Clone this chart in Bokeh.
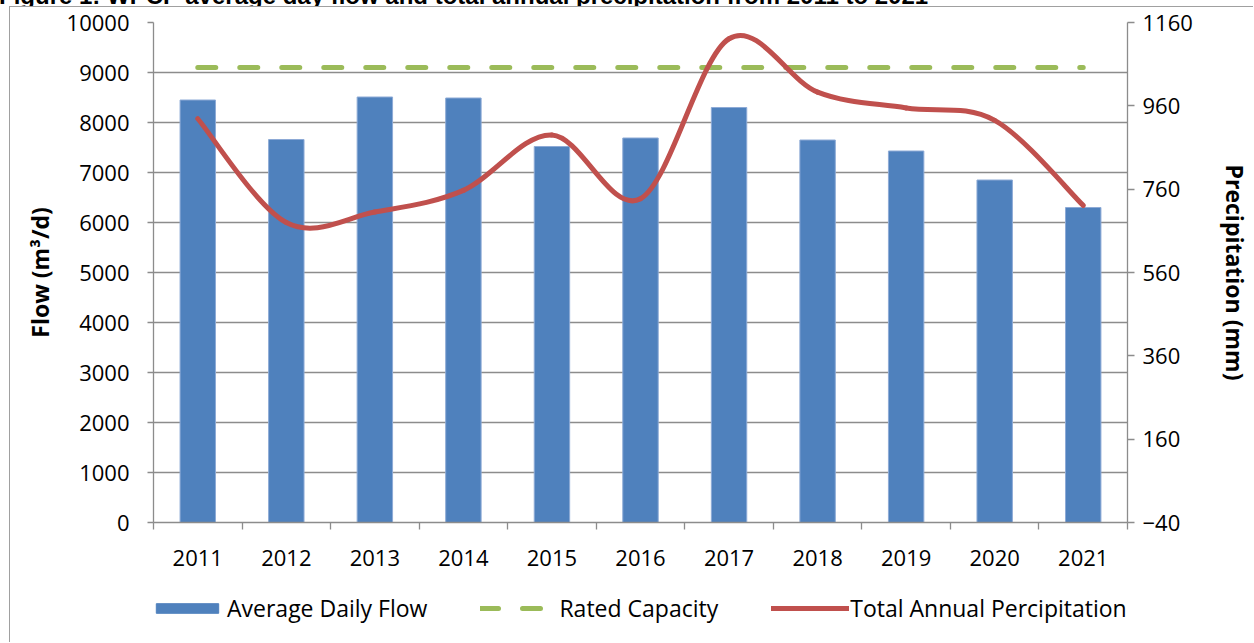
from bokeh.plotting import figure
from bokeh.layouts import column
from bokeh.models import Range1d, LinearAxis, FixedTicker, Legend, LegendItem, Div
from bokeh.embed import file_html
from bokeh.resources import INLINE

title_text = "Figure 1: WPCP average day flow and total annual precipitation from 2011 to 2021"
years = ["2011", "2012", "2013", "2014", "2015", "2016", "2017", "2018", "2019", "2020", "2021"]
flow = [8450, 7660, 8510, 8490, 7520, 7690, 8300, 7650, 7430, 6850, 6300]
rated = [9100, 9100, 9100, 9100, 9100, 9100, 9100, 9100, 9100, 9100, 9100]
precip = [929, 680, 705, 757, 890, 737, 1121, 993, 955, 925, 721]
flow_ticks = [0, 1000, 2000, 3000, 4000, 5000, 6000, 7000, 8000, 9000, 10000]
precip_ticks = [-40, 160, 360, 560, 760, 960, 1160]

FONT = "Open Sans"
GRID = "#8C8C8C"
BAR_C = "#4F81BD"
RATED_C = "#9BBB59"
PRECIP_C = "#C0504D"

xs = list(range(len(years)))

W = 1243
p = figure(width=W, height=572, output_backend="svg", toolbar_location=None,
           x_range=Range1d(-0.5, len(years) - 0.5),
           y_range=Range1d(flow_ticks[0], flow_ticks[-1]),
           min_border_left=143, min_border_right=120, min_border_top=15, min_border_bottom=57)
p.extra_y_ranges = {"precip": Range1d(precip_ticks[0], precip_ticks[-1])}
p.outline_line_color = None
p.background_fill_color = "white"
p.border_fill_color = "white"

# axes
xa = p.xaxis[0]
xa.ticker = FixedTicker(ticks=xs, minor_ticks=[i - 0.5 for i in range(len(years) + 1)])
xa.major_label_overrides = {i: y for i, y in enumerate(years)}
xa.major_tick_out = 0
xa.major_tick_in = 0
xa.minor_tick_out = 7
xa.minor_tick_in = 0
xa.minor_tick_line_color = GRID
xa.minor_tick_line_width = 1.3
xa.major_label_standoff = 20
xa.axis_line_color = GRID
xa.axis_line_width = 1.3

ya = p.yaxis[0]
ya.ticker = FixedTicker(ticks=flow_ticks)
ya.major_tick_out = 6
ya.major_tick_in = 0
ya.minor_tick_out = 0
ya.minor_tick_in = 0
ya.major_tick_line_color = GRID
ya.major_tick_line_width = 1.3
ya.axis_line_color = GRID
ya.axis_line_width = 1.3
ya.major_label_standoff = 18
ya.axis_label = "Flow (m³/d)"
ya.axis_label_standoff = 8

ra = LinearAxis(y_range_name="precip", ticker=FixedTicker(ticks=precip_ticks))
ra.major_tick_out = 7
ra.major_tick_in = 0
ra.minor_tick_out = 0
ra.minor_tick_in = 0
ra.major_tick_line_color = GRID
ra.major_tick_line_width = 1.3
ra.axis_line_color = GRID
ra.axis_line_width = 1.3
ra.major_label_standoff = 8
ra.axis_label = "Precipitation (mm)"
ra.axis_label_standoff = 23
p.add_layout(ra, "right")

for ax in (xa, ya, ra):
    ax.major_label_text_font = FONT
    ax.major_label_text_font_size = "22px"
    ax.major_label_text_color = "black"
    ax.axis_label_text_font = FONT
    ax.axis_label_text_font_size = "23px"
    ax.axis_label_text_font_style = "bold"
    ax.axis_label_text_color = "black"

p.xgrid.visible = False
p.ygrid.ticker = FixedTicker(ticks=flow_ticks)
p.ygrid.grid_line_color = GRID
p.ygrid.grid_line_width = 1.3

# bars
p.vbar(x=xs, top=flow, width=0.4, fill_color=BAR_C, line_color="#8DAAD6", line_width=1)

# rated capacity
p.line(xs, rated, line_color=RATED_C, line_width=5, line_dash="18 24", line_cap="round")

# smoothed precipitation (Catmull-Rom style Bezier through the data points)
n = len(precip)
x0, y0, x1, y1, cx0, cy0, cx1, cy1 = [], [], [], [], [], [], [], []
for i in range(n - 1):
    xm, ym = xs[max(i - 1, 0)], precip[max(i - 1, 0)]
    xa_, ya_ = xs[i], precip[i]
    xb, yb = xs[i + 1], precip[i + 1]
    xp, yp = xs[min(i + 2, n - 1)], precip[min(i + 2, n - 1)]
    x0.append(xa_); y0.append(ya_)
    x1.append(xb); y1.append(yb)
    cx0.append(xa_ + (xb - xm) / 6.0); cy0.append(ya_ + (yb - ym) / 6.0)
    cx1.append(xb - (xp - xa_) / 6.0); cy1.append(yb - (yp - ya_) / 6.0)
p.bezier(x0=x0, y0=y0, x1=x1, y1=y1, cx0=cx0, cy0=cy0, cx1=cx1, cy1=cy1,
         y_range_name="precip", line_color=PRECIP_C, line_width=5, line_cap="round")

# legend strip (same series, drawn off-range so only the legend shows)
q = figure(width=W, height=63, output_backend="svg", toolbar_location=None,
           x_range=Range1d(1000, 1001), y_range=Range1d(100000, 100001),
           min_border_left=0, min_border_right=0, min_border_top=0, min_border_bottom=0)
q.axis.visible = False
q.grid.visible = False
q.outline_line_color = None
q.background_fill_color = "white"
q.border_fill_color = "white"
lb = q.vbar(x=xs, top=flow, width=0.4, fill_color=BAR_C, line_color=BAR_C)
lr = q.line(xs, rated, line_color=RATED_C, line_width=5, line_dash="18 24", line_cap="round")
lp = q.line(xs, precip, line_color=PRECIP_C, line_width=5, line_cap="round")

legend = Legend(items=[
    LegendItem(label="Average Daily Flow", renderers=[lb]),
    LegendItem(label="Rated Capacity", renderers=[lr]),
    LegendItem(label="Total Annual Percipitation", renderers=[lp]),
], orientation="horizontal", location=(-5, 18))
legend.label_text_font = FONT
legend.label_text_font_size = "23px"
legend.label_text_color = "black"
legend.glyph_width = 78
legend.glyph_height = 12
legend.label_standoff = 1
legend.spacing = 53
legend.border_line_color = None
legend.background_fill_alpha = 0
legend.padding = 0
legend.margin = 0
q.add_layout(legend, "center")

title = Div(text=('<div style="position:relative; top:-16px; left:-1px; white-space:nowrap; '
                  'font-family:\'Liberation Sans\'; font-weight:bold; font-size:24px; '
                  'line-height:24px; color:black;">' + title_text + '</div>'),
            width=1250, height=6, margin=0, styles={"overflow": "hidden"})

inner = column(p, q, spacing=0)
inner.styles = {"margin-left": "9px", "margin-top": "0px",
                "border-left": "1px solid #A0A0A0", "border-top": "1px solid #A0A0A0"}
layout = column(title, inner, spacing=0)

open("out.html", "w").write(file_html(layout, INLINE))
